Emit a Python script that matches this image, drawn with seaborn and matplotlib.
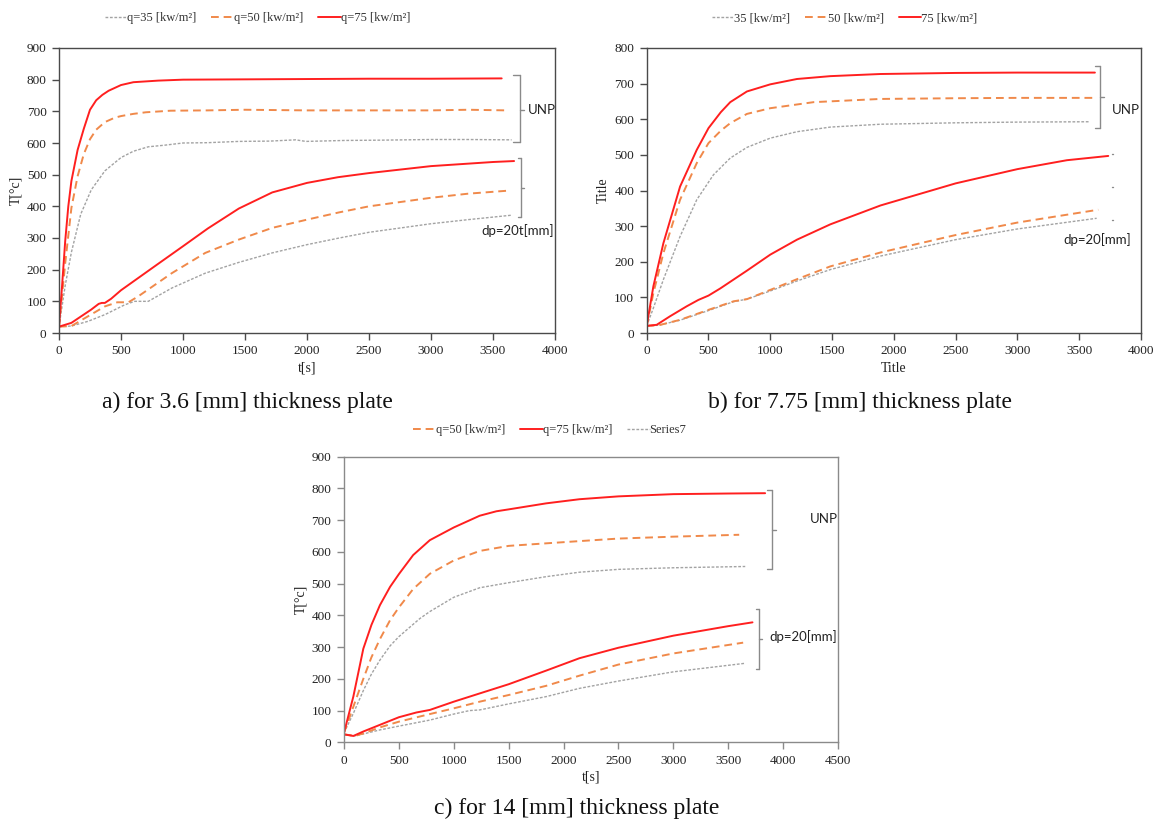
import numpy as np
import pandas as pd
import matplotlib
matplotlib.use("Agg")
import matplotlib.pyplot as plt
import seaborn as sns

# ---------------- data ----------------
# Panel a) 3.6 mm plate
A_T_UNP75 = [0, 25, 50, 75, 100, 150, 200, 250, 300, 350, 400, 500, 600, 800, 1000, 1500, 2000, 2500, 3000, 3570]
A_V_UNP75 = [20, 150, 290, 400, 480, 578, 645, 705, 735, 752, 765, 783, 792, 797, 800, 801, 802, 803, 803, 804]
A_T_UNP50 = [0, 50, 100, 150, 200, 250, 300, 370, 450, 500, 600, 700, 900, 1200, 1500, 2000, 2500, 3000, 3300, 3610]
A_V_UNP50 = [20, 220, 395, 495, 565, 612, 642, 666, 680, 685, 692, 697, 702, 703, 705, 703, 703, 703, 705, 703]
A_T_UNP35 = [0, 50, 100, 175, 260, 370, 500, 600, 720, 850, 1000, 1200, 1450, 1700, 1910, 1990, 2300, 2600, 3000, 3300, 3650]
A_V_UNP35 = [20, 150, 255, 375, 452, 512, 554, 574, 588, 593, 600, 601, 605, 606, 610, 605, 608, 609, 611, 611, 610]
A_T_DP75 = [0, 100, 180, 260, 320, 345, 370, 420, 500, 640, 780, 1000, 1200, 1450, 1720, 2000, 2250, 2500, 3000, 3500, 3670]
A_V_DP75 = [20, 32, 53, 74, 92, 95, 95, 108, 135, 174, 213, 274, 330, 393, 444, 474, 492, 505, 527, 540, 543]
A_T_DP50 = [0, 100, 235, 370, 470, 560, 640, 910, 1180, 1450, 1720, 2000, 2260, 2500, 3000, 3300, 3640]
A_V_DP50 = [20, 22, 53, 84, 97, 97, 116, 189, 253, 295, 332, 358, 381, 400, 427, 440, 450]
A_T_DP35 = [0, 100, 235, 370, 530, 610, 720, 910, 1180, 1450, 1720, 2000, 2260, 2500, 3000, 3300, 3650]
A_V_DP35 = [20, 22, 37, 58, 89, 100, 100, 142, 189, 223, 253, 279, 300, 318, 345, 358, 372]

# Panel b) 7.75 mm plate
B_T_UNP75 = [0, 54, 135, 270, 405, 500, 600, 676, 811, 1000, 1216, 1486, 1892, 2500, 3000, 3627]
B_V_UNP75 = [20, 131, 252, 411, 514, 575, 620, 648, 678, 698, 713, 721, 727, 730, 731, 731]
B_T_UNP50 = [0, 54, 135, 270, 405, 500, 600, 676, 811, 1000, 1351, 1892, 2500, 3000, 3611]
B_V_UNP50 = [20, 112, 224, 374, 477, 533, 568, 589, 615, 631, 648, 657, 659, 660, 660]
B_T_UNP35 = [0, 54, 135, 270, 405, 540, 676, 811, 1000, 1216, 1486, 1892, 2500, 3000, 3587]
B_V_UNP35 = [20, 70, 150, 271, 374, 444, 491, 521, 547, 565, 578, 586, 590, 592, 593]
B_T_DP75 = [0, 81, 189, 324, 419, 500, 595, 811, 1000, 1216, 1486, 1892, 2500, 3000, 3400, 3735]
B_V_DP75 = [20, 23, 47, 75, 93, 105, 125, 175, 220, 262, 305, 358, 420, 460, 485, 497]
B_T_DP50 = [0, 100, 270, 500, 703, 811, 1000, 1216, 1486, 1892, 2500, 3000, 3654]
B_V_DP50 = [20, 22, 37, 65, 89, 95, 121, 151, 187, 226, 275, 310, 346]
B_T_DP35 = [0, 100, 270, 500, 703, 811, 1000, 1216, 1486, 1892, 2500, 3000, 3641]
B_V_DP35 = [20, 22, 36, 63, 88, 95, 118, 146, 178, 216, 262, 292, 322]

# Panel c) 14 mm plate
C_T_UNP75 = [0, 85, 176, 250, 327, 420, 500, 630, 782, 1000, 1236, 1388, 1500, 1842, 2145, 2500, 3000, 3500, 3836]
C_V_UNP75 = [30, 144, 295, 370, 432, 490, 530, 590, 637, 677, 714, 728, 734, 753, 766, 775, 782, 784, 785]
C_T_UNP50 = [0, 85, 176, 250, 327, 420, 500, 630, 782, 1000, 1236, 1500, 1842, 2145, 2500, 3000, 3600]
C_V_UNP50 = [30, 112, 200, 268, 325, 385, 425, 483, 531, 573, 603, 619, 627, 634, 642, 648, 654]
C_T_UNP35 = [0, 85, 176, 250, 327, 420, 500, 691, 782, 1000, 1236, 1500, 1842, 2145, 2500, 3000, 3655]
C_V_UNP35 = [30, 91, 163, 215, 259, 304, 333, 390, 412, 457, 487, 503, 522, 536, 545, 550, 554]
C_T_DP75 = [0, 85, 176, 327, 500, 660, 782, 1000, 1236, 1500, 1842, 2145, 2500, 3000, 3500, 3721]
C_V_DP75 = [25, 20, 34, 55, 79, 94, 102, 128, 154, 183, 226, 265, 298, 336, 366, 378]
C_T_DP50 = [0, 100, 176, 327, 500, 782, 1000, 1236, 1500, 1842, 2145, 2500, 3000, 3636]
C_V_DP50 = [25, 20, 28, 47, 65, 89, 107, 128, 149, 178, 210, 245, 280, 314]
C_T_DP35 = [0, 100, 327, 500, 782, 1000, 1145, 1236, 1500, 1842, 2145, 2500, 3000, 3655]
C_V_DP35 = [25, 20, 39, 51, 70, 89, 100, 102, 121, 144, 170, 193, 222, 249]

LABELS_A = ["q=35 [kw/m²]", "q=50 [kw/m²]", "q=75 [kw/m²]"]
LABELS_B = ["35 [kw/m²]", "50 [kw/m²]", "75 [kw/m²]"]
LABELS_C = ["Series7", "q=50 [kw/m²]", "q=75 [kw/m²]"]
CAPTIONS = ["a) for 3.6 [mm] thickness plate", "b) for 7.75 [mm] thickness plate", "c) for 14 [mm] thickness plate"]

# ---------------- style ----------------
sns.set_theme(style="white")
plt.rcParams["font.family"] = ["Liberation Serif", "DejaVu Serif"]
SANS = ["Lato", "DejaVu Sans"]

RED = "#FF1F1F"
ORANGE = "#F0894A"
GRAY = "#A3A3A3"
STY = {
    "35": dict(color=GRAY, linestyle=(0, (2, 1.2)), linewidth=1.0),
    "50": dict(color=ORANGE, linestyle=(0, (4, 2.5)), linewidth=1.4),
    "75": dict(color=RED, linestyle="-", linewidth=1.4),
}

fig = plt.figure(figsize=(11.56, 8.23), dpi=100)
W, H = 1156, 823


def add_axes(l, r, t, b):
    return fig.add_axes([l / W, 1 - b / H, (r - l) / W, (b - t) / H])


axA = add_axes(59, 555, 48, 333)
axB = add_axes(646.7, 1141, 48, 333)
axC = add_axes(344, 838, 456.7, 742.3)


def draw(ax, series, order):
    handles = {}
    for key, lab, (tu, vu), (td, vd) in series:
        st = STY[key]
        sns.lineplot(x=tu, y=vu, ax=ax, color=st["color"], linewidth=st["linewidth"],
                     label=lab, sort=False, errorbar=None)
        sns.lineplot(x=td, y=vd, ax=ax, color=st["color"], linewidth=st["linewidth"],
                     label="_nolegend_", sort=False, errorbar=None)
        for ln in ax.lines[-2:]:
            ln.set_linestyle(st["linestyle"])
            ln.set_solid_joinstyle("round")
            ln.set_dash_joinstyle("round")
        handles[key] = (ax.lines[-2], lab)
    return [handles[k] for k in order]


hA = draw(axA, [
    ("35", LABELS_A[0], (A_T_UNP35, A_V_UNP35), (A_T_DP35, A_V_DP35)),
    ("50", LABELS_A[1], (A_T_UNP50, A_V_UNP50), (A_T_DP50, A_V_DP50)),
    ("75", LABELS_A[2], (A_T_UNP75, A_V_UNP75), (A_T_DP75, A_V_DP75)),
], ["35", "50", "75"])
hB = draw(axB, [
    ("35", LABELS_B[0], (B_T_UNP35, B_V_UNP35), (B_T_DP35, B_V_DP35)),
    ("50", LABELS_B[1], (B_T_UNP50, B_V_UNP50), (B_T_DP50, B_V_DP50)),
    ("75", LABELS_B[2], (B_T_UNP75, B_V_UNP75), (B_T_DP75, B_V_DP75)),
], ["35", "50", "75"])
hC = draw(axC, [
    ("35", LABELS_C[0], (C_T_UNP35, C_V_UNP35), (C_T_DP35, C_V_DP35)),
    ("50", LABELS_C[1], (C_T_UNP50, C_V_UNP50), (C_T_DP50, C_V_DP50)),
    ("75", LABELS_C[2], (C_T_UNP75, C_V_UNP75), (C_T_DP75, C_V_DP75)),
], ["50", "75", "35"])


def style_axes(ax, xmax, ymax, ylabel, xlabel, spine_col):
    ax.set_xlim(0, xmax)
    ax.set_ylim(0, ymax)
    ax.set_xticks(np.arange(0, xmax + 1, 500))
    ax.set_yticks(np.arange(0, ymax + 1, 100))
    for s in ax.spines.values():
        s.set_visible(True)
        s.set_color(spine_col)
        s.set_linewidth(1.0)
    ax.tick_params(axis="both", which="major", direction="out", length=5, width=1,
                   color=spine_col, labelsize=9.5, labelcolor="#222222", pad=4,
                   bottom=True, left=True)
    ax.set_ylabel(ylabel, fontsize=10, color="#222222", labelpad=3)
    ax.set_xlabel(xlabel, fontsize=10, color="#222222", labelpad=3)
    ax.grid(False)


style_axes(axA, 4000, 900, "T[°c]", "t[s]", "#4a4a4a")
style_axes(axB, 4000, 800, "Title", "Title", "#4a4a4a")
style_axes(axC, 4500, 900, "T[°c]", "t[s]", "#8a8a8a")


def legend(ax, handles, xc, yc):
    lg = ax.legend([h for h, _ in handles], [l for _, l in handles], loc="center",
                   bbox_to_anchor=(xc, yc), ncol=3, frameon=False, fontsize=9,
                   handlelength=1.8, handletextpad=0.0, columnspacing=1.2,
                   borderaxespad=0)
    for t in lg.get_texts():
        t.set_color("#333333")


legend(axA, hA, 0.40, 1.105)
legend(axB, hB, 0.40, 1.105)
legend(axC, hC, 0.417, 1.0935)

BR = "#8a8a8a"


def bracket(ax, x, y0, y1, ym, end_dx=-0.012, tick_dx=0.008, ends=True):
    tr = ax.transAxes
    kw = dict(transform=tr, color=BR, linewidth=1.0, clip_on=False)
    ax.plot([x, x], [y0, y1], **kw)
    if ends:
        ax.plot([x + end_dx, x], [y0, y0], **kw)
        ax.plot([x + end_dx, x], [y1, y1], **kw)
    ax.plot([x, x + tick_dx], [ym, ym], **kw)


# panel a annotations
bracket(axA, 0.929, 0.905, 0.671, 0.782, end_dx=-0.014)
axA.text(0.946, 0.782, "UNP", transform=axA.transAxes, family=SANS, fontsize=9.5,
         va="center", ha="left", color="#222222")
bracket(axA, 0.931, 0.614, 0.408, 0.510, end_dx=-0.006, tick_dx=0.006)
axA.text(0.925, 0.361, "dp=20t[mm]", transform=axA.transAxes, family=SANS, fontsize=9.5,
         va="center", ha="center", color="#222222")

# panel b annotations
bracket(axB, 0.917, 0.938, 0.720, 0.829, end_dx=-0.01)
axB.text(0.9405, 0.783, "UNP", transform=axB.transAxes, family=SANS, fontsize=9.5,
         va="center", ha="left", color="#222222")
for yy in (0.629, 0.513, 0.398):
    axB.plot([0.941, 0.944], [yy, yy], transform=axB.transAxes, color=BR,
             linewidth=1.0, clip_on=False)
axB.text(0.912, 0.327, "dp=20[mm]", transform=axB.transAxes, family=SANS, fontsize=9.5,
         va="center", ha="center", color="#222222")

# panel c annotations
bracket(axC, 0.866, 0.883, 0.606, 0.743, end_dx=-0.009)
axC.text(0.971, 0.781, "UNP", transform=axC.transAxes, family=SANS, fontsize=9.5,
         va="center", ha="center", color="#222222")
bracket(axC, 0.841, 0.466, 0.256, 0.361, end_dx=-0.008, tick_dx=0.006)
axC.text(0.930, 0.372, "dp=20[mm]", transform=axC.transAxes, family=SANS, fontsize=9.5,
         va="center", ha="center", color="#222222")

# captions
fig.text(247 / W, 1 - 402 / H, CAPTIONS[0], ha="center", va="center", fontsize=17, color="#111111")
fig.text(860 / W, 1 - 402 / H, CAPTIONS[1], ha="center", va="center", fontsize=17, color="#111111")
fig.text(577 / W, 1 - 808 / H, CAPTIONS[2], ha="center", va="center", fontsize=17, color="#111111")

fig.savefig("out.png", dpi=100, facecolor="white")
